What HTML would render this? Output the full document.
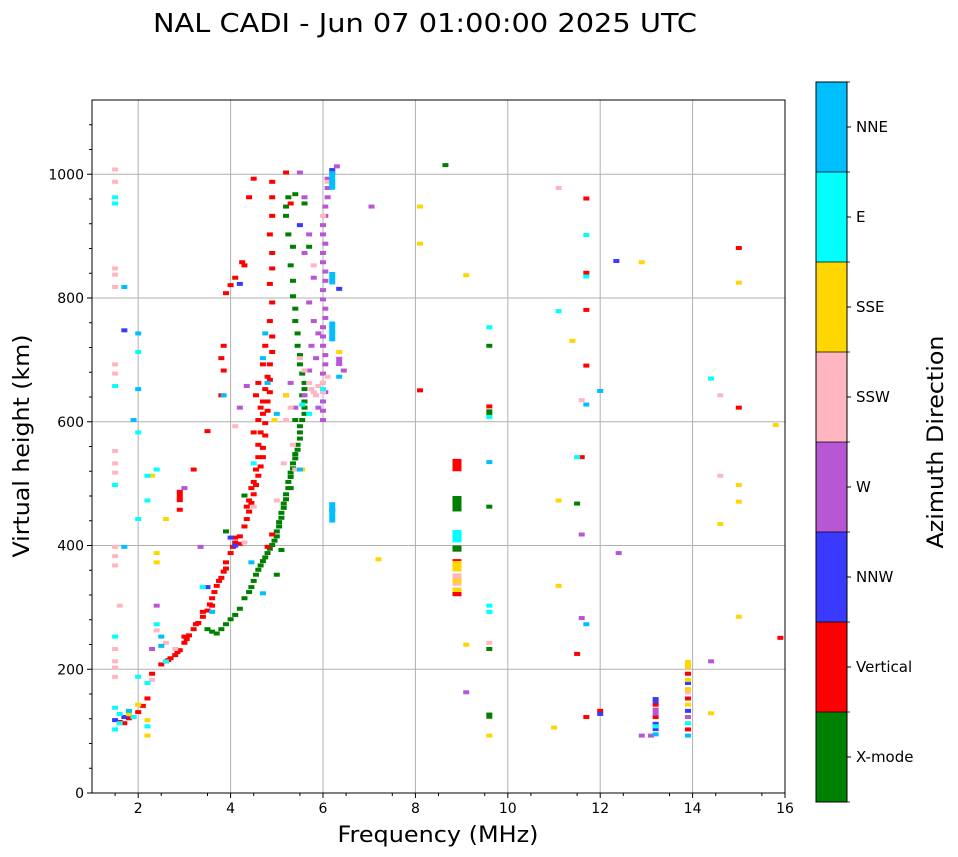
<!DOCTYPE html>
<html><head><meta charset="utf-8"><style>
body{margin:0;background:#fff;}
svg{display:block;font-family:"DejaVu Sans","Liberation Sans",sans-serif;}
</style></head><body>
<svg id="chart" width="958" height="857" viewBox="0 0 958 857" xmlns="http://www.w3.org/2000/svg">
<text x="425" y="32" font-size="26" text-anchor="middle" textLength="544" lengthAdjust="spacingAndGlyphs">NAL CADI - Jun 07 01:00:00 2025 UTC</text>
<g id="grid"></g>
<g id="marks"></g>
<rect x="92" y="100" width="693" height="693" fill="none" stroke="#000" stroke-width="1"/>
<g id="axes"></g>
<text x="438" y="842" font-size="22" text-anchor="middle" textLength="201" lengthAdjust="spacingAndGlyphs">Frequency (MHz)</text>
<text transform="translate(29,446) rotate(-90)" font-size="22" text-anchor="middle" textLength="223" lengthAdjust="spacingAndGlyphs">Virtual height (km)</text>
<g id="cbar"></g>
<text transform="translate(943,442) rotate(-90)" font-size="22" text-anchor="middle" textLength="213" lengthAdjust="spacingAndGlyphs">Azimuth Direction</text>
</svg>
<script>
const directions=['X-mode','Vertical','NNW','W','SSW','SSE','E','NNE'];
const xTicks=[2,4,6,8,10,12,14,16];
const yTicks=[0,200,400,600,800,1000];
// [freq MHz, height km, optional top height km]
const xmodeEchoes=[[3.5,262],[3.6,258],[3.7,255],[3.8,262],[3.9,270],[4.0,278],[4.1,285],[4.2,295],[4.3,312],[4.4,322],[4.45,330],[4.5,340],[4.55,350],[4.6,358],[4.65,365],[4.7,372],[4.75,378],[4.8,385],[4.85,392],[4.9,398],[4.95,405],[5.0,412],[5.0,420],[5.05,428],[5.05,435],[5.1,442],[5.1,450],[5.15,458],[5.15,465],[5.2,472],[5.2,480],[5.25,490],[5.25,500],[5.3,508],[5.3,515],[5.35,522],[5.35,530],[5.4,538],[5.4,545],[5.45,552],[5.45,560],[5.5,570],[5.5,580],[5.5,590],[5.55,600],[5.6,610],[5.6,620],[5.6,630],[5.55,640],[5.6,650],[5.6,660],[5.55,675],[5.5,690],[5.5,705],[5.45,720],[5.45,740],[5.4,760],[5.4,780],[5.35,800],[5.35,825],[5.3,850],[5.35,880],[5.25,900],[5.2,930],[5.25,960],[5.4,965],[5.2,945],[3.9,420],[4.3,478],[8.9,455,480],[8.9,390,400],[9.6,610,620],[9.6,720],[9.6,460],[9.6,230],[9.6,120,130],[8.65,1012],[11.5,465],[5.0,350],[5.1,390],[5.3,490],[5.4,600],[5.7,880],[5.6,950]];
const verticalEchoes=[[1.6,112],[1.7,110],[1.8,118],[1.9,120],[2.0,128],[2.1,138],[2.2,150],[2.3,190],[2.5,205],[2.6,210],[2.7,215],[2.8,220],[2.9,228],[3.0,240],[3.05,246],[3.1,252],[3.2,262],[3.3,272],[3.4,282],[3.5,292],[3.55,302],[3.6,312],[3.65,322],[3.7,332],[3.8,345],[3.85,355],[3.9,370],[4.0,385],[4.05,395],[4.1,402],[4.2,412],[4.3,428],[4.35,440],[4.4,452],[4.45,466],[4.5,480],[4.55,495],[4.6,510],[4.65,525],[4.7,540],[4.7,555],[4.75,575],[4.75,595],[4.8,615],[4.8,630],[4.85,645],[4.85,665],[4.85,690],[4.9,710],[4.9,735],[4.85,760],[4.9,790],[4.85,820],[4.9,845],[4.9,870],[4.85,900],[4.9,930],[4.9,960],[4.9,985],[4.6,600],[4.65,620],[4.55,640],[4.6,660],[4.7,690],[4.75,720],[4.6,560],[4.5,580],[3.8,640],[3.85,680],[3.8,700],[3.85,720],[3.9,805],[4.0,818],[4.1,830],[4.25,855],[4.4,960],[3.5,582],[2.9,470,490],[2.9,455],[3.2,520],[4.8,395],[4.9,415],[8.9,520,540],[8.9,372],[8.9,318,325],[9.6,622],[11.7,958],[11.7,838],[11.7,778],[11.7,688],[11.6,540],[11.5,222],[11.7,120],[15.0,878],[15.0,620],[15.9,248],[8.1,648],[13.2,140],[13.2,120],[13.9,100],[13.9,150],[13.9,190],[12.0,130],[4.3,850],[4.5,990],[5.2,1000],[5.3,950],[4.7,630],[4.75,650],[4.8,670],[4.7,610],[4.65,580],[4.6,540],[4.55,520],[4.5,500],[4.45,490],[4.4,470],[4.35,460],[3.75,340],[3.6,300],[3.4,290],[3.25,270],[3.0,250],[2.85,225],[2.65,212],[4.2,400],[4.1,410],[3.9,360]];
const nnwEchoes=[[13.2,145,155],[13.2,100,115],[13.9,130],[13.9,175],[12.35,857],[4.2,820],[5.5,915],[6.2,455],[6.2,1000,1010],[1.7,120],[1.5,115],[3.5,330],[4.0,410],[4.1,397],[1.7,745],[6.35,812],[12.0,125]];
const wEchoes=[[6.0,600],[6.0,630],[6.0,660],[6.05,690],[6.0,720],[6.0,750],[6.05,780],[6.0,810],[6.05,840],[6.0,870],[6.0,900],[6.05,930],[6.1,960],[6.1,990],[5.7,680],[5.75,720],[5.8,760],[5.7,790],[5.8,830],[5.6,870],[5.7,900],[5.6,960],[5.5,1000],[6.35,690,705],[6.45,680],[5.2,640],[5.3,660],[5.4,620],[5.6,640],[5.9,620],[3.0,490],[3.35,395],[4.35,655],[4.2,620],[13.2,125,138],[13.1,90],[12.9,90],[14.4,210],[12.4,385],[11.6,415],[11.6,280],[9.1,160],[7.05,945],[13.9,120],[2.4,300],[2.3,230],[6.3,1010],[6.0,615],[6.05,645],[6.0,675],[6.05,705],[6.0,735],[6.05,765],[6.0,795],[6.05,825],[6.0,855],[6.05,885],[6.0,915],[6.05,945],[6.1,975],[5.85,700],[5.9,740]];
const sswEchoes=[[1.5,1005],[1.5,985],[1.5,845],[1.5,835],[1.5,815],[1.5,690],[1.5,675],[1.5,550],[1.5,530],[1.5,515],[1.5,395],[1.5,380],[1.5,365],[1.5,230],[1.5,210],[1.5,200],[1.5,185],[1.6,300],[5.8,645],[5.9,655],[6.0,660],[6.1,670],[5.7,660],[5.6,680],[5.5,700],[5.3,620],[5.2,600],[5.35,560],[5.4,520],[5.0,470],[5.15,530],[5.8,850],[6.0,930],[6.1,985],[2.4,260],[2.6,240],[2.8,230],[8.9,335,355],[14.6,640],[14.6,510],[11.6,632],[9.6,240],[13.9,160],[2.3,180],[4.1,590],[11.1,975],[4.3,402],[4.5,460],[5.85,640],[6.0,645],[5.75,650]];
const sseEchoes=[[8.9,325,332],[8.9,358,375],[8.9,340],[13.9,200,215],[13.9,180],[13.9,165],[13.9,140],[14.4,126],[11.0,103],[15.0,822],[15.0,495],[15.0,468],[14.6,432],[15.0,282],[15.8,592],[8.1,945],[8.1,885],[9.1,834],[12.9,855],[11.4,728],[11.1,470],[11.1,332],[9.1,237],[9.6,90],[7.2,375],[2.4,385],[2.4,370],[2.3,510],[2.6,440],[1.8,125],[2.2,115],[2.2,90],[2.0,140],[5.55,520],[6.35,710],[5.2,640],[4.95,600]];
const eEchoes=[[8.9,405,425],[1.5,960],[1.5,950],[1.5,655],[1.5,495],[1.5,250],[1.5,135],[1.6,125],[1.6,110],[1.5,100],[2.0,440],[2.0,580],[2.0,710],[2.2,470],[2.2,510],[2.0,185],[2.2,175],[2.4,520],[2.4,270],[2.6,210],[5.7,610],[5.55,625],[6.0,650],[11.1,776],[11.5,540],[9.6,750],[9.6,605],[9.6,290],[9.6,300],[14.4,667],[11.7,899],[11.7,832],[2.2,105],[1.9,120],[4.5,530],[3.4,330],[13.9,110],[13.2,105]];
const nneEchoes=[[6.2,975,1005],[6.2,822,842],[6.2,730,762],[6.2,437,470],[6.35,670],[4.7,320],[1.7,815],[2.0,740],[2.0,650],[1.9,600],[1.7,395],[2.5,235],[2.5,250],[4.7,700],[4.75,740],[4.8,660],[5.0,610],[5.5,520],[3.85,640],[9.6,532],[11.7,625],[12.0,647],[11.7,270],[4.45,370],[3.6,290],[1.8,130],[13.2,92,98],[13.9,90,96]];

const colors=['#008000','#ff0000','#3a3aff','#b857d6','#ffb6c1','#ffd700','#00ffff','#00bfff'];
const series=[xmodeEchoes,verticalEchoes,nnwEchoes,wEchoes,sswEchoes,sseEchoes,eEchoes,nneEchoes];
const NS='http://www.w3.org/2000/svg';
const X0=92,X1=785,Y0=793,Y1=100;
function xs(f){return X0+(f-1)/(16-1)*(X1-X0);}
function ys(h){return Y0-h/1120*(Y0-Y1);}
function mk(tag,attrs,parent){const e=document.createElementNS(NS,tag);for(const k in attrs)e.setAttribute(k,attrs[k]);parent.appendChild(e);return e;}
const grid=document.getElementById('grid'),axes=document.getElementById('axes'),marks=document.getElementById('marks'),cbar=document.getElementById('cbar');
xTicks.forEach(t=>{
  const x=xs(t);
  const g=mk('line',{x1:x,x2:x,y1:Y1,y2:Y0,stroke:'#b0b0b0','stroke-width':1},grid);
  
  
  mk('line',{x1:x,x2:x,y1:Y0,y2:Y0+5,stroke:'#000'},axes);
  const tx=mk('text',{x:x,y:Y0+20,'font-size':14,'text-anchor':'middle'},axes);
  tx.textContent=t;
  
  
});
for(let f=1.5;f<16;f+=1){const x=xs(f);mk('line',{x1:x,x2:x,y1:Y0,y2:Y0+3,stroke:'#000'},axes);}
yTicks.forEach(t=>{
  const y=ys(t);
  if(t>0){const g=mk('line',{x1:X0,x2:X1,y1:y,y2:y,stroke:'#b0b0b0','stroke-width':1},grid);
  
  }
  mk('line',{x1:X0-5,x2:X0,y1:y,y2:y,stroke:'#000'},axes);
  const tx=mk('text',{x:X0-8,y:y+5,'font-size':14,'text-anchor':'end'},axes);
  tx.textContent=t;
  
  
});
for(let h=40;h<1120;h+=40){if(h%200===0)continue;const y=ys(h);mk('line',{x1:X0-3,x2:X0,y1:y,y2:y,stroke:'#000'},axes);}
series.forEach((pts,si)=>{
  pts.forEach(p=>{
    const wide=(p[0]===8.9);
    const w=wide?9:6;
    const top=p.length>2?p[2]:p[1]+6;
    const yT=ys(top),yB=ys(p[1]);
    const r=mk('rect',{x:xs(p[0])-w/2,y:yT,width:w,height:Math.max(4,yB-yT),fill:colors[si]},marks);
    
    
  });
});
const CX=816,CW=31,CT=82,CB=802,bh=(CB-CT)/8;
directions.forEach((d,i)=>{
  const y=CB-(i+1)*bh;
  const r=mk('rect',{x:CX,y:y,width:CW,height:bh,fill:colors[i]},cbar);
  
  
  mk('line',{x1:CX+CW,x2:CX+CW+4,y1:y+bh/2,y2:y+bh/2,stroke:'#000'},cbar);
  const tx=mk('text',{x:CX+CW+9,y:y+bh/2+5,'font-size':15},cbar);
  tx.textContent=d;
  
  
});
for(let i=0;i<=8;i++){const y=CT+i*bh;mk('line',{x1:CX,x2:CX+CW+3,y1:y,y2:y,stroke:'#000','stroke-width':0.8},cbar);}
mk('rect',{x:CX,y:CT,width:CW,height:CB-CT,fill:'none',stroke:'#000','stroke-width':1},cbar);
</script>
</body></html>
